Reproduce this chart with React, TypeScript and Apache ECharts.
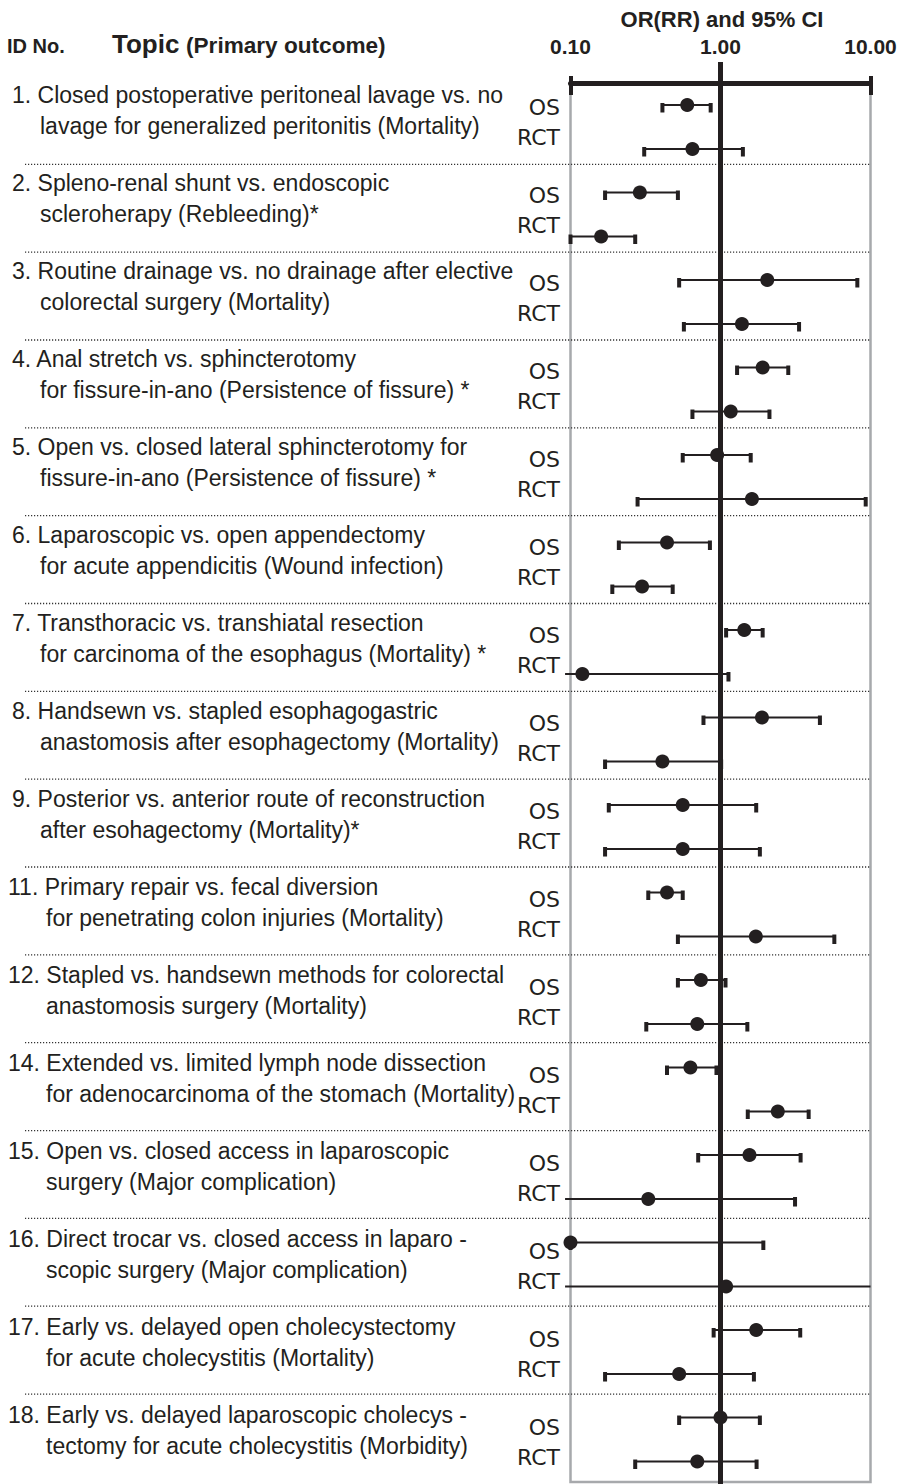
import React, { useEffect, useRef } from "react";
import * as echarts from "echarts";

// ---------- data ----------
const TOPIC_IDS = [1, 2, 3, 4, 5, 6, 7, 8, 9, 11, 12, 14, 15, 16, 17, 18];
const TOPIC_LINE1 = [
  "1. Closed postoperative peritoneal lavage vs. no",
  "2. Spleno-renal shunt vs. endoscopic",
  "3. Routine drainage vs. no drainage after elective",
  "4. Anal stretch vs. sphincterotomy",
  "5. Open vs. closed lateral sphincterotomy for",
  "6. Laparoscopic vs. open appendectomy",
  "7. Transthoracic vs. transhiatal resection",
  "8. Handsewn vs. stapled esophagogastric",
  "9. Posterior vs. anterior route of reconstruction",
  "11. Primary repair vs. fecal diversion",
  "12. Stapled vs. handsewn methods for colorectal",
  "14. Extended vs. limited lymph node dissection",
  "15. Open vs. closed access in laparoscopic",
  "16. Direct trocar vs. closed access in laparo -",
  "17. Early vs. delayed open cholecystectomy",
  "18. Early vs. delayed laparoscopic cholecys -",
];
const TOPIC_LINE2 = [
  "lavage for generalized peritonitis (Mortality)",
  "scleroherapy (Rebleeding)*",
  "colorectal surgery (Mortality)",
  "for fissure-in-ano (Persistence of fissure) *",
  "fissure-in-ano (Persistence of fissure) *",
  "for acute appendicitis (Wound infection)",
  "for carcinoma of the esophagus (Mortality) *",
  "anastomosis after esophagectomy (Mortality)",
  "after esohagectomy (Mortality)*",
  "for penetrating colon injuries (Mortality)",
  "anastomosis surgery (Mortality)",
  "for adenocarcinoma of the stomach (Mortality)",
  "surgery (Major complication)",
  "scopic surgery (Major complication)",
  "for acute cholecystitis (Mortality)",
  "tectomy for acute cholecystitis (Morbidity)",
];
const OS_LOWER = [0.41, 0.17, 0.53, 1.29, 0.56, 0.21, 1.09, 0.77, 0.18, 0.33, 0.52, 0.44, 0.71, 0.1, 0.9, 0.53];
const OS_ESTIMATE = [0.6, 0.29, 2.05, 1.91, 0.95, 0.44, 1.44, 1.89, 0.56, 0.44, 0.74, 0.63, 1.56, 0.1, 1.73, 1.0];
const OS_UPPER = [0.86, 0.52, 8.17, 2.83, 1.59, 0.85, 1.91, 4.6, 1.73, 0.56, 1.08, 0.94, 3.42, 1.93, 3.4, 1.83];
const RCT_LOWER = [0.31, 0.1, 0.57, 0.65, 0.28, 0.19, 0.092, 0.17, 0.17, 0.52, 0.32, 1.52, 0.092, 0.092, 0.17, 0.27];
const RCT_ESTIMATE = [0.65, 0.16, 1.39, 1.17, 1.62, 0.3, 0.12, 0.41, 0.56, 1.72, 0.7, 2.41, 0.33, 1.09, 0.53, 0.7];
const RCT_UPPER = [1.41, 0.27, 3.34, 2.12, 9.29, 0.48, 1.13, 1.01, 1.83, 5.74, 1.51, 3.87, 3.14, 10, 1.67, 1.74];
const DESIGN_LABELS = ["OS", "RCT"];
const AXIS_TICKS = [0.1, 1, 10];
const AXIS_TICK_LABELS = ["0.10", "1.00", "10.00"];
const AXIS_TITLE = "OR(RR) and 95% CI";

// ---------- style / layout ----------
const INK = "#231f20";
const GRAY = "#a7a9ac";
const SANS = "Liberation Sans";
const VERD = "DejaVu Sans";
const X_MIN = 0.1;
const X_MAX = 10;
const RCT_OFFSET = 0.503;

export default function App() {
  const ref = useRef<HTMLDivElement>(null);

  useEffect(() => {
    if (!ref.current) return;
    const chart = echarts.init(ref.current, null, { renderer: "svg" });

    const barData: number[][] = [];
    TOPIC_IDS.forEach((_, i) => {
      barData.push([OS_ESTIMATE[i], i, OS_LOWER[i], OS_UPPER[i]]);
      barData.push([RCT_ESTIMATE[i], i + RCT_OFFSET, RCT_LOWER[i], RCT_UPPER[i]]);
    });

    const tickLabel = (v: number) => {
      const k = AXIS_TICKS.findIndex((t) => Math.abs(Math.log10(t) - Math.log10(v)) < 1e-6);
      return k >= 0 ? AXIS_TICK_LABELS[k] : "";
    };

    const txt = (
      text: string,
      x: number,
      y: number,
      size: number,
      opts: { bold?: boolean; align?: string; family?: string } = {}
    ) => ({
      type: "text",
      silent: true,
      z: 5,
      style: {
        text,
        x,
        y,
        fill: INK,
        fontSize: size,
        fontFamily: opts.family || SANS,
        fontWeight: opts.bold ? "bold" : "normal",
        align: opts.align || "left",
        textAlign: opts.align || "left",
        verticalAlign: "middle",
        textVerticalAlign: "middle",
      },
    });

    const graphics: any[] = [];
    // header
    graphics.push(txt(AXIS_TITLE, 722, 19, 22, { bold: true, align: "center" }));
    graphics.push(txt("ID No.", 7, 46.4, 20, { bold: true }));
    graphics.push(txt("Topic", 112, 44.3, 26, { bold: true }));
    graphics.push(txt("(Primary outcome)", 186, 45.6, 22.6, { bold: true }));

    // separators
    for (let k = 0; k < TOPIC_IDS.length - 1; k++) {
      const y = 164.3 + 87.84 * k;
      graphics.push({
        type: "line",
        silent: true,
        z: 0,
        shape: { x1: 25, y1: y, x2: 870.5, y2: y },
        style: { stroke: "#333333", lineWidth: 1.3, lineDash: [1.2, 1.8] },
      });
    }

    // topic texts and design labels
    TOPIC_IDS.forEach((id, i) => {
      const base = 103 + 88 * i;
      const two = id >= 10;
      graphics.push(txt(TOPIC_LINE1[i], two ? 8 : 12, base - 8, 23));
      graphics.push(txt(TOPIC_LINE2[i], two ? 46 : 40, base + 30.5 - 8, 23));
      graphics.push(txt(DESIGN_LABELS[0], 560, base + 12.5 - 7.6, 22, { align: "right", family: VERD }));
      graphics.push(txt(DESIGN_LABELS[1], 560, base + 42.5 - 7.6, 22, { align: "right", family: VERD }));
    });

    const baseX = {
      type: "log",
      logBase: 10,
      min: X_MIN,
      max: X_MAX,
      position: "top",
      gridIndex: 0,
      splitLine: { show: false },
      minorTick: { show: false },
    };

    chart.setOption({
      animation: false,
      grid: {
        left: 570.5,
        right: 902 - 870.5,
        top: 83,
        bottom: 2,
        show: true,
        borderColor: GRAY,
        borderWidth: 2.5,
        backgroundColor: "transparent",
      },
      xAxis: [
        {
          ...baseX,
          axisLine: { show: true, onZero: false, lineStyle: { color: INK, width: 5 } },
          axisTick: { show: true, inside: false, length: 7, lineStyle: { color: INK, width: 4 } },
          axisLabel: {
            show: true,
            margin: 26.5,
            formatter: tickLabel,
            color: INK,
            fontSize: 21,
            fontWeight: "bold",
            fontFamily: SANS,
            showMinLabel: true,
            showMaxLabel: true,
          },
        },
        {
          ...baseX,
          axisLine: { show: false, onZero: false },
          axisTick: { show: true, inside: true, length: 12, lineStyle: { color: INK, width: 4 } },
          axisLabel: { show: false },
        },
      ],
      yAxis: {
        type: "value",
        inverse: true,
        min: -0.2514,
        max: 15.737,
        show: false,
      },
      graphic: graphics,
      series: [
        {
          type: "custom",
          name: "reference",
          clip: false,
          silent: true,
          z: 1,
          encode: { x: 0, y: 1 },
          data: [[1, 0]],
          renderItem: (_p: any, api: any) => {
            const p = api.coord([api.value(0), api.value(1)]);
            return {
              type: "line",
              shape: { x1: p[0], y1: 62, x2: p[0], y2: 1484 },
              style: { stroke: INK, lineWidth: 5 },
            };
          },
        },
        {
          type: "custom",
          name: "estimates",
          clip: false,
          silent: true,
          z: 3,
          encode: { x: 0, y: 1 },
          data: barData,
          renderItem: (_p: any, api: any) => {
            const est = api.value(0);
            const y = api.value(1);
            const lo = api.value(2);
            const hi = api.value(3);
            const pE = api.coord([est, y]);
            const pL = api.coord([lo, y]);
            const pH = api.coord([hi, y]);
            const children: any[] = [
              {
                type: "line",
                shape: { x1: pL[0], y1: pL[1], x2: pH[0], y2: pH[1] },
                style: { stroke: INK, lineWidth: 2 },
              },
            ];
            if (lo >= X_MIN - 1e-9) {
              children.push({
                type: "rect",
                shape: { x: pL[0] - 2, y: pL[1] - 2, width: 4, height: 9.5 },
                style: { fill: INK },
              });
            }
            if (hi < X_MAX - 1e-9) {
              children.push({
                type: "rect",
                shape: { x: pH[0] - 2, y: pH[1] - 2, width: 4, height: 9.5 },
                style: { fill: INK },
              });
            }
            children.push({
              type: "circle",
              shape: { cx: pE[0], cy: pE[1], r: 7 },
              style: { fill: INK },
            });
            return { type: "group", children };
          },
        },
      ],
    });

    return () => chart.dispose();
  }, []);

  return (
    <div
      ref={ref}
      style={{ position: "absolute", left: 0, top: 0, width: 902, height: 1484, background: "#fff" }}
    />
  );
}
